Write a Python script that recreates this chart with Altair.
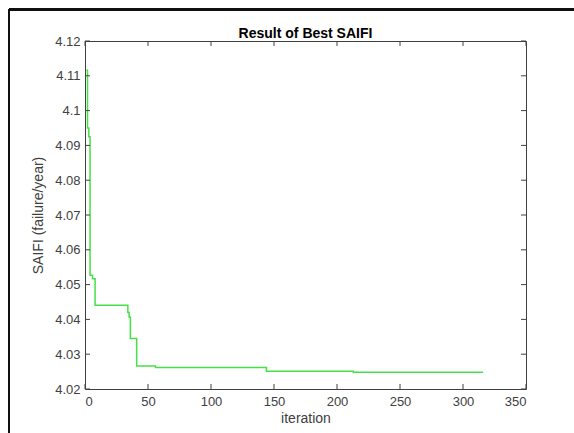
import altair as alt
import pandas as pd

# data (step changes of best SAIFI)
iterations = [1, 2, 3, 4, 6, 8, 34, 35, 36, 41, 56, 144, 213, 316]
saifi = [4.1116, 4.0950, 4.0925, 4.0527, 4.0517, 4.0441, 4.0420, 4.0407,
         4.0345, 4.0266, 4.0262, 4.0251, 4.0248, 4.0248]

x_ticks = [0, 50, 100, 150, 200, 250, 300, 350]
y_ticks = [4.02, 4.03, 4.04, 4.05, 4.06, 4.07, 4.08, 4.09, 4.10, 4.11, 4.12]
title_text = ["Result of Best SAIFI"]

W, H = 441, 348
PAD_L, PAD_T = 85, 41
FONT = "Liberation Sans"
AX = "#404040"

df = pd.DataFrame({"iteration": iterations, "saifi": saifi})
xt = pd.DataFrame({"t": x_ticks})
yt = pd.DataFrame({"t": y_ticks})
tt = pd.DataFrame({"title": title_text})

xscale = alt.Scale(domain=[0, 350], nice=False, zero=False)
yscale = alt.Scale(domain=[4.02, 4.12], nice=False, zero=False)
x_axis = alt.Axis(values=x_ticks, title="iteration", format="d",
                  tickSize=0, domain=False, grid=False,
                  labelPadding=6, titlePadding=3, labelOverlap=False)
y_axis = alt.Axis(values=y_ticks, title="SAIFI (failure/year)",
                  format=".2~f", tickSize=0, domain=False, grid=False,
                  labelPadding=5, titlePadding=9, labelOverlap=False)

line = alt.Chart(df).mark_line(
    color="#45e045", strokeWidth=1.5, interpolate="step-after"
).encode(
    x=alt.X("iteration:Q", scale=xscale, axis=x_axis),
    y=alt.Y("saifi:Q", scale=yscale, axis=y_axis),
)

xb = alt.Chart(xt).mark_rule(color=AX, strokeWidth=1).encode(
    x=alt.X("t:Q", scale=xscale, axis=x_axis), y=alt.value(H), y2=alt.value(H - 5))
xtp = alt.Chart(xt).mark_rule(color=AX, strokeWidth=1).encode(
    x=alt.X("t:Q", scale=xscale, axis=x_axis), y=alt.value(0), y2=alt.value(5))
yl = alt.Chart(yt).mark_rule(color=AX, strokeWidth=1).encode(
    y=alt.Y("t:Q", scale=yscale, axis=y_axis), x=alt.value(0), x2=alt.value(5))
yr = alt.Chart(yt).mark_rule(color=AX, strokeWidth=1).encode(
    y=alt.Y("t:Q", scale=yscale, axis=y_axis), x=alt.value(W - 5), x2=alt.value(W))

frame_left = alt.Chart(xt).mark_rule(color="#111111", strokeWidth=2).encode(
    x=alt.value(9 - PAD_L), y=alt.value(9.5 - PAD_T), y2=alt.value(433 - PAD_T))
frame_top = alt.Chart(xt).mark_rule(color="#111111", strokeWidth=2).encode(
    y=alt.value(9.5 - PAD_T), x=alt.value(9 - PAD_L), x2=alt.value(574 - PAD_L))

title = alt.Chart(tt).mark_text(
    font=FONT, fontSize=14, fontWeight="bold", color="black",
    align="center", baseline="alphabetic"
).encode(x=alt.value(W / 2), y=alt.value(-3), text="title:N")

chart = alt.layer(line, frame_left, frame_top, xb, xtp, yl, yr, title).properties(
    width=W, height=H,
    background="white",
    autosize=alt.AutoSizeParams(type="none"),
    padding={"left": PAD_L, "top": PAD_T, "right": 574 - PAD_L - W,
             "bottom": 433 - PAD_T - H},
).configure_view(
    stroke=AX, strokeWidth=1
).configure_axis(
    labelFont=FONT, labelFontSize=13, labelColor=AX, labelOverlap=False,
    titleFont=FONT, titleFontSize=14, titleColor=AX, titleFontWeight="normal"
)

chart.save("out.html", embed_options={"renderer": "svg", "actions": False})
